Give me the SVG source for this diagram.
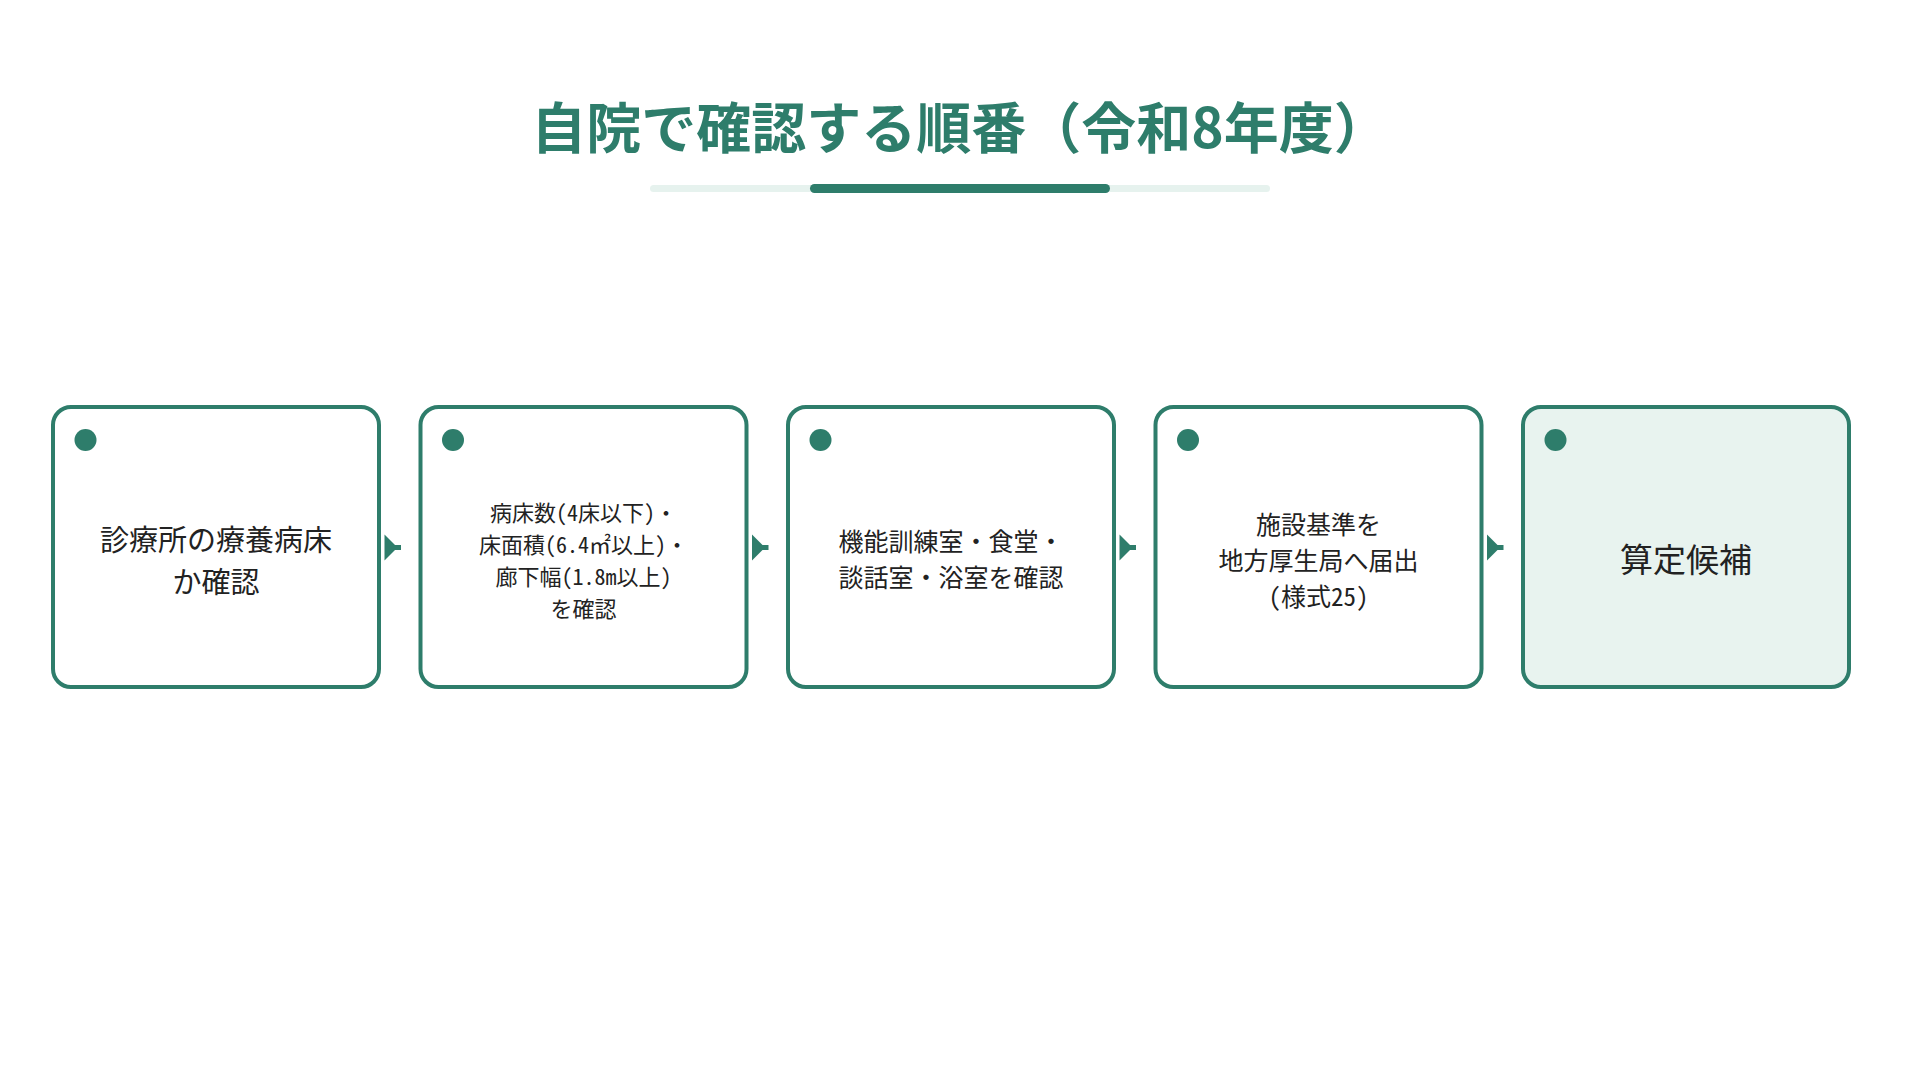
<svg xmlns="http://www.w3.org/2000/svg" width="1920" height="1080" viewBox="0 0 1920 1080">
<style>
.card{fill:#ffffff;stroke:#2e7d6b;stroke-width:4}
.card.last{fill:#e8f3ef}
.dot{fill:#2e7d6b}
.lbl{font-family:"Noto Sans Mono CJK JP","Noto Sans CJK JP","Noto Sans",sans-serif;fill:#222222;text-anchor:middle}
.title{font-family:"Noto Sans CJK JP","Noto Sans",sans-serif;font-weight:700;font-size:55px;fill:#2e7d6b;text-anchor:middle}
.arr{fill:#2e7d6b}
</style>
<rect x="0" y="0" width="1920" height="1080" fill="#ffffff"/>
<g id="title">
<text class="title" x="960" y="148">自院で確認する順番（令和8年度）</text>
<rect x="650" y="185" width="620" height="7" rx="3.5" fill="#e6f2ee"/>
<rect x="810" y="184" width="300" height="9" rx="4.5" fill="#2e7d6b"/>
</g>
<g id="connectors">
<path class="arr" d="M384.5,534.5 L397.5,547.5 L384.5,560.5 Z"/><rect class="arr" x="392" y="545" width="9" height="5"/>
<path class="arr" d="M752,534.5 L765,547.5 L752,560.5 Z"/><rect class="arr" x="759.5" y="545" width="9" height="5"/>
<path class="arr" d="M1119.5,534.5 L1132.5,547.5 L1119.5,560.5 Z"/><rect class="arr" x="1127" y="545" width="9" height="5"/>
<path class="arr" d="M1487,534.5 L1500,547.5 L1487,560.5 Z"/><rect class="arr" x="1494.5" y="545" width="9" height="5"/>
</g>
<g id="node1">
<rect class="card" x="53" y="407" width="326" height="280" rx="18"/>
<circle class="dot" cx="85.5" cy="440" r="11"/>
<text class="lbl" font-size="29" x="216" y="551">診療所の療養病床</text>
<text class="lbl" font-size="29" x="216" y="593">か確認</text>
</g>
<g id="node2">
<rect class="card" x="420.5" y="407" width="326" height="280" rx="18"/>
<circle class="dot" cx="453" cy="440" r="11"/>
<text class="lbl" font-size="22" x="583.5" y="521">病床数(4床以下)・</text>
<text class="lbl" font-size="22" x="583.5" y="553">床面積(6.4㎡以上)・</text>
<text class="lbl" font-size="22" x="583.5" y="585">廊下幅(1.8m以上)</text>
<text class="lbl" font-size="22" x="583.5" y="617">を確認</text>
</g>
<g id="node3">
<rect class="card" x="788" y="407" width="326" height="280" rx="18"/>
<circle class="dot" cx="820.5" cy="440" r="11"/>
<text class="lbl" font-size="25" x="951" y="551">機能訓練室・食堂・</text>
<text class="lbl" font-size="25" x="951" y="587">談話室・浴室を確認</text>
</g>
<g id="node4">
<rect class="card" x="1155.5" y="407" width="326" height="280" rx="18"/>
<circle class="dot" cx="1188" cy="440" r="11"/>
<text class="lbl" font-size="25" x="1318.5" y="533.5">施設基準を</text>
<text class="lbl" font-size="25" x="1318.5" y="569.5">地方厚生局へ届出</text>
<text class="lbl" font-size="25" x="1318.5" y="605.5">(様式25)</text>
</g>
<g id="node5">
<rect class="card last" x="1523" y="407" width="326" height="280" rx="18"/>
<circle class="dot" cx="1555.5" cy="440" r="11"/>
<text class="lbl" font-size="33" x="1686" y="571.5">算定候補</text>
</g>
</svg>
